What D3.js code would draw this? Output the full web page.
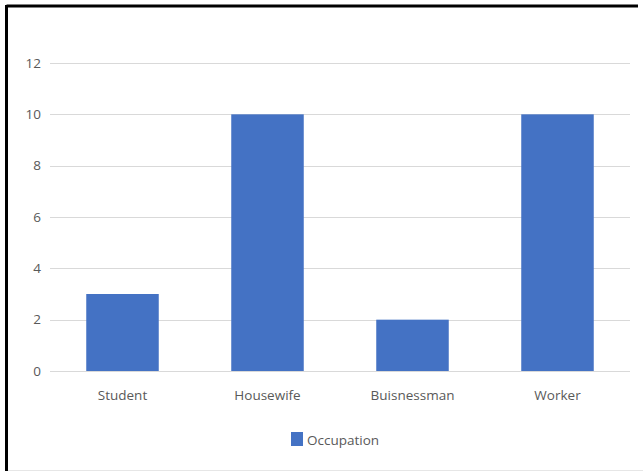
<!DOCTYPE html>
<html>
<head>
<meta charset="utf-8">
<script src="https://cdn.jsdelivr.net/npm/d3@7/dist/d3.min.js"></script>
<style>
  html, body { margin: 0; padding: 0; background: #fff; }
  svg { display: block; }
  text { font-family: "Open Sans", "Noto Sans", sans-serif; fill: #595959; }
</style>
</head>
<body>
<svg id="chart" width="643" height="472"></svg>
<script>
// Occupation counts
const categories = ["Student", "Housewife", "Buisnessman", "Worker"];
const values = [3, 10, 2, 10];
const yTicks = [0, 2, 4, 6, 8, 10, 12];
const seriesName = "Occupation";

const W = 643, H = 472;
const margin = { left: 50, right: 13, top: 63, bottom: 101 };
const fontSize = 13.5;
const svg = d3.select("#chart");

// frame: dark top/left edges, faint bottom edge
svg.append("line").attr("x1", 6.5).attr("x2", 638).attr("y1", 6).attr("y2", 6)
  .attr("stroke", "#000").attr("stroke-width", 3);
svg.append("line").attr("x1", 6.5).attr("x2", 6.5).attr("y1", 5).attr("y2", 471)
  .attr("stroke", "#000").attr("stroke-width", 3);
svg.append("line").attr("x1", 8).attr("x2", 643).attr("y1", 470.5).attr("y2", 470.5)
  .attr("stroke", "#e6e6e6").attr("stroke-width", 1);

const x = d3.scaleBand()
  .domain(categories)
  .range([margin.left, W - margin.right])
  .paddingInner(0.5)
  .paddingOuter(0.25);

const y = d3.scaleLinear()
  .domain([0, 12])
  .range([H - margin.bottom, margin.top]);

// gridlines
svg.append("g")
  .selectAll("line")
  .data(yTicks)
  .join("line")
  .attr("x1", 50).attr("x2", 630)
  .attr("y1", d => Math.round(y(d)) + 0.5)
  .attr("y2", d => Math.round(y(d)) + 0.5)
  .attr("stroke", "#d9d9d9").attr("stroke-width", 1.2);

// y axis labels
const yAxis = d3.axisLeft(y).tickValues(yTicks).tickSize(0).tickPadding(0);
svg.append("g")
  .attr("transform", "translate(41,0)")
  .call(yAxis)
  .call(g => g.select(".domain").remove())
  .call(g => g.selectAll("text").attr("font-size", fontSize).style("fill", "#595959")
    .attr("font-family", "'Open Sans', sans-serif"));

// bars
svg.append("g")
  .selectAll("rect")
  .data(values)
  .join("rect")
  .attr("x", (d, i) => x(categories[i]))
  .attr("width", x.bandwidth())
  .attr("y", d => y(d))
  .attr("height", d => y(0) - y(d))
  .attr("fill", "#4472c4");

// x axis labels
const xAxis = d3.axisBottom(x).tickSize(0).tickPadding(0);
svg.append("g")
  .attr("transform", `translate(0,${y(0) + 25})`)
  .call(xAxis)
  .call(g => g.select(".domain").remove())
  .call(g => g.selectAll("text").attr("font-size", fontSize).attr("dy", "0.32em").style("fill", "#595959")
    .attr("font-family", "'Open Sans', sans-serif"));

// legend
const legend = svg.append("g").attr("transform", "translate(291,432)");
legend.append("rect").attr("width", 12).attr("height", 14).attr("fill", "#4472c4");
legend.append("text").attr("x", 16).attr("y", 8).attr("dy", "0.35em")
  .attr("font-size", fontSize).text(seriesName);
</script>
</body>
</html>
